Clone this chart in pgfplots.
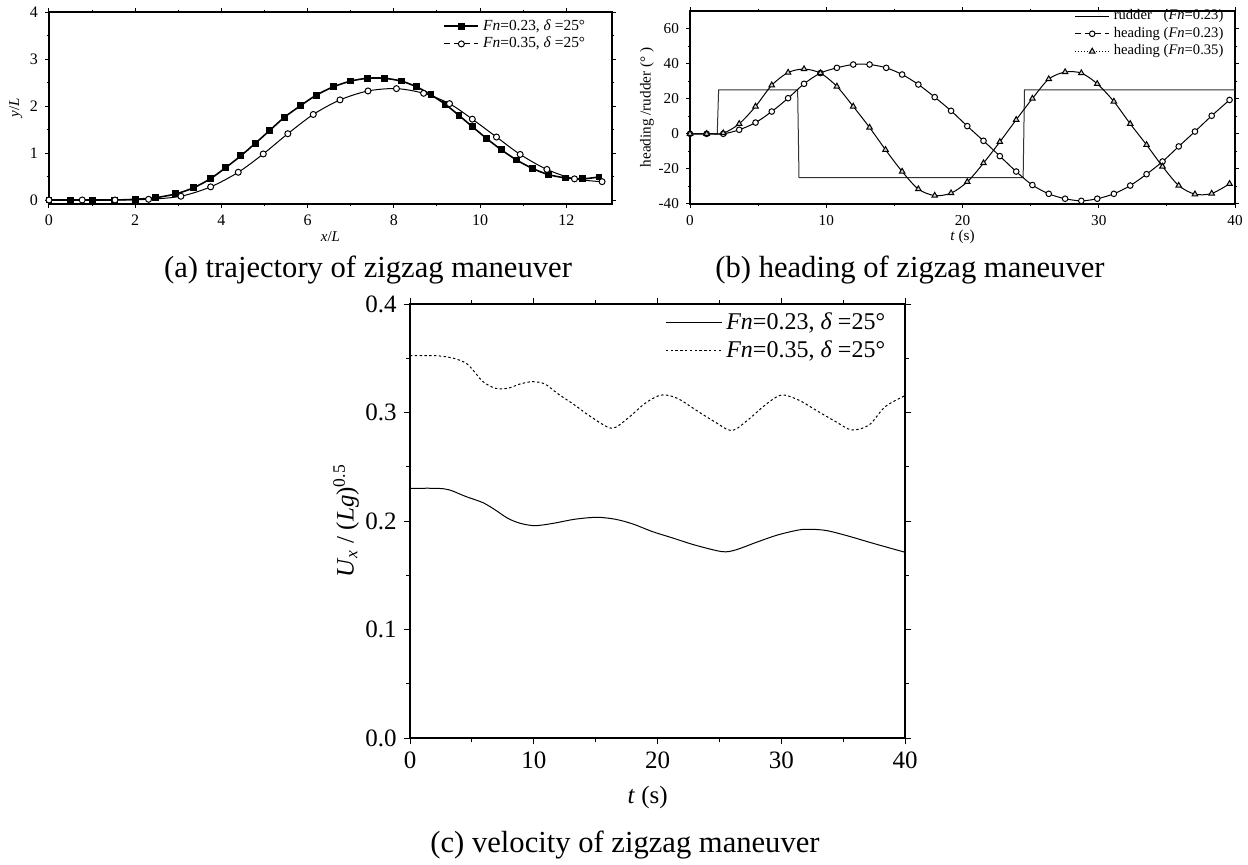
\documentclass[border=0pt]{standalone}
\usepackage{fontspec}
\setmainfont{Liberation Serif}
\usepackage{pgfplots}
\pgfplotsset{compat=1.18}
\begin{document}
\begin{tikzpicture}
\useasboundingbox (0,0) rectangle (624pt,432pt);
\pgfplotsset{
  every axis/.append style={
    scale only axis,
    anchor=south west,
    /pgf/number format/assume math mode=true,
    tick align=outside,
    xtick pos=both, ytick pos=both,
    minor tick num=1,
    axis line style={line width=0.6pt},
    every tick/.style={black, line width=0.5pt},
    legend cell align=left,
  }
}
% ---------------- (a) trajectory ----------------
\begin{axis}[
  at={(24.5pt,330pt)}, width=281.5pt, height=96pt,
  xmin=0, xmax=13.06, ymin=-0.085, ymax=4,
  xtick={0,2,4,6,8,10,12}, ytick={0,1,2,3,4},
  major tick length=2pt, minor tick length=1.2pt,
  tick label style={font=\fontsize{8}{9}\selectfont},
  xlabel={\textit{x}/\textit{L}}, ylabel={\textit{y}/\textit{L}},
  label style={font=\fontsize{7.5}{9}\selectfont},
  xlabel style={at={(axis description cs:0.5,-0.172)}, anchor=center},
  ylabel style={at={(axis description cs:-0.059,0.5)}, anchor=center},
  legend style={at={(axis description cs:0.70,0.985)}, anchor=north west, draw=none, fill=none,
    font=\fontsize{7.7}{8}\selectfont, inner sep=0pt, row sep=-2pt},
]
\addplot[black, line width=0.8pt, smooth, mark=square*, mark size=1.3pt, mark options={solid}, forget plot] coordinates {
(0,0) (0.5,0) (1.01,0) (1.52,0) (2.0,0.015) (2.47,0.05) (2.94,0.13) (3.35,0.26) (3.74,0.45)
(4.10,0.69) (4.45,0.94) (4.79,1.21) (5.12,1.48) (5.46,1.76) (5.84,2.01) (6.20,2.23) (6.60,2.41)
(7.00,2.53) (7.39,2.59) (7.78,2.59) (8.17,2.53) (8.52,2.41) (8.86,2.24) (9.20,2.03) (9.51,1.80)
(9.82,1.56) (10.15,1.31) (10.49,1.07) (10.85,0.85) (11.22,0.67) (11.59,0.54) (11.99,0.47)
(12.38,0.45) (12.76,0.49)
};
\addplot[black, line width=0.5pt, smooth, mark=*, mark size=1.5pt, mark options={solid, fill=white}, forget plot] coordinates {
(0,0) (0.77,0) (1.53,0) (2.31,0.015) (3.06,0.08) (3.75,0.28) (4.39,0.59) (4.97,0.98) (5.54,1.41)
(6.13,1.82) (6.75,2.13) (7.40,2.32) (8.06,2.37) (8.69,2.27) (9.29,2.05) (9.82,1.72) (10.38,1.34)
(10.93,0.97) (11.55,0.65) (12.19,0.45) (12.83,0.39)
};
\addlegendimage{black, line width=0.8pt, mark=square*, mark size=1.3pt, mark options={solid}}
\addlegendentry{\textit{Fn}=0.23, \textit{δ} =25°}
\addlegendimage{black, line width=0.5pt, densely dashed, mark=*, mark size=1.5pt, mark options={solid, fill=white}}
\addlegendentry{\textit{Fn}=0.35, \textit{δ} =25°}
\end{axis}
% ---------------- (b) heading ----------------
\begin{axis}[
  at={(345pt,330pt)}, width=272.5pt, height=96.5pt,
  xmin=0, xmax=40, ymin=-40, ymax=70,
  xtick={0,10,20,30,40}, ytick={-40,-20,0,20,40,60},
  major tick length=2pt, minor tick length=1.2pt,
  tick label style={font=\fontsize{7.6}{9}\selectfont},
  xlabel={\textit{t} (s)}, ylabel={heading /rudder (° )},
  label style={font=\fontsize{7.6}{9}\selectfont},
  xlabel style={at={(axis description cs:0.5,-0.17)}, anchor=center},
  ylabel style={at={(axis description cs:-0.079,0.5)}, anchor=center},
  legend style={at={(axis description cs:0.705,1.03)}, anchor=north west, draw=none, fill=none,
    font=\fontsize{7.3}{8}\selectfont, inner sep=0pt, row sep=-1.75pt},
]
\addplot[black!80, line width=0.5pt, forget plot] coordinates {
(0,0) (2.0,0) (2.1,25) (7.9,25) (8.0,-25) (24.45,-25) (24.55,25) (40,25)
};
\addplot[black, line width=0.5pt, smooth, mark=*, mark size=1.4pt, mark options={solid, fill=white}, forget plot] coordinates {
(0,0) (1.22,0) (2.44,0) (3.61,2.3) (4.81,6.4) (6.0,12.7) (7.2,20.3) (8.37,28.5) (9.57,34.6)
(10.78,37.6) (11.98,39.5) (13.18,39.5) (14.40,37.6) (15.57,33.8) (16.76,28.1) (17.96,20.9)
(19.16,13.1) (20.35,4.4) (21.54,-4.0) (22.74,-12.7) (23.94,-21.5) (25.13,-29.2) (26.33,-34.2)
(27.53,-37.0) (28.72,-38.2) (29.89,-37.0) (31.11,-34.2) (32.31,-29.5) (33.51,-23.0) (34.68,-15.8)
(35.87,-7.2) (37.06,1.3) (38.29,10.3) (39.6,19.3)
};
\addplot[black, line width=0.5pt, smooth, mark=triangle*, mark size=1.6pt, mark options={solid, fill=gray!35}, forget plot] coordinates {
(0,0) (1.22,0) (2.44,0.4) (3.61,5.7) (4.81,15.6) (6.0,27.7) (7.2,34.9) (8.37,36.9) (9.57,34.6)
(10.78,27.0) (11.98,15.6) (13.18,3.6) (14.35,-9.1) (15.57,-21.5) (16.76,-31.5) (17.96,-35.2)
(19.16,-33.8) (20.35,-27.4) (21.54,-16.7) (22.74,-4.6) (23.94,8.0) (25.13,20.1) (26.33,31.2)
(27.53,35.2) (28.72,34.6) (29.89,28.5) (31.11,18.4) (32.31,5.7) (33.51,-6.3) (34.68,-18.6)
(35.87,-29.5) (37.06,-34.4) (38.29,-34.0) (39.6,-28.5)
};
\addlegendimage{black, line width=0.5pt}
\addlegendentry{\rlap{rudder}\phantom{heading} (\textit{Fn}=0.23)}
\addlegendimage{black, line width=0.5pt, densely dashed, mark=*, mark size=1.4pt, mark options={solid, fill=white}}
\addlegendentry{heading (\textit{Fn}=0.23)}
\addlegendimage{black, line width=0.5pt, densely dotted, mark=triangle*, mark size=1.6pt, mark options={solid, fill=gray!35}}
\addlegendentry{heading (\textit{Fn}=0.35)}
\end{axis}
% ---------------- (c) velocity ----------------
\begin{axis}[
  at={(205pt,63pt)}, width=247.5pt, height=217pt,
  xmin=0, xmax=40, ymin=0, ymax=0.4,
  xtick={0,10,20,30,40}, ytick={0,0.1,0.2,0.3,0.4},
  axis line style={line width=0.8pt},
  major tick length=3.2pt, minor tick length=1.8pt,
  tick label style={font=\fontsize{12.5}{14}\selectfont},
  y tick label style={/pgf/number format/.cd, fixed, fixed zerofill, precision=1},
  xlabel={\textit{t} (s)}, ylabel={\textit{U}\textsubscript{\textit{x}} / (\textit{Lg})\textsuperscript{0.5}},
  label style={font=\fontsize{12.5}{14}\selectfont},
  xlabel style={at={(axis description cs:0.48,-0.136)}, anchor=center},
  ylabel style={at={(axis description cs:-0.129,0.5)}, anchor=center},
  legend image code/.code={\draw[#1] (0pt,0pt) -- (28pt,0pt);},
  legend style={at={(axis description cs:0.515,0.99)}, anchor=north west, draw=none, fill=none,
    font=\fontsize{12}{13}\selectfont, inner sep=0pt, row sep=0pt},
]
\addplot[black, line width=0.5pt, smooth] coordinates {
(0,0.2301) (2.2,0.2301) (3.2,0.2286) (4.55,0.2224) (5.9,0.2169) (6.9,0.2101) (7.9,0.2025)
(8.9,0.1979) (10.1,0.1957) (11.6,0.1979) (13.3,0.2016) (15.1,0.2034) (16.6,0.2016) (18.0,0.1973)
(19.6,0.1902) (21.3,0.1841) (23.0,0.1779) (25.2,0.1718) (26.3,0.1733) (28.0,0.1804) (29.7,0.1871)
(31.4,0.1917) (32.4,0.1924) (33.7,0.1911) (35.4,0.1862) (37.4,0.1795) (40,0.1712)
};
\addlegendentry{\textit{Fn}=0.23, \textit{δ} =25°}
\addplot[black, line width=0.5pt, smooth, dash pattern=on 1.2pt off 1.2pt] coordinates {
(0,0.3523) (2.2,0.3523) (3.55,0.3499) (4.55,0.3453) (5.2,0.3376) (5.9,0.3284) (6.9,0.3223)
(7.9,0.3223) (8.9,0.3263) (9.9,0.3284) (10.9,0.3263) (11.9,0.3177) (13.3,0.3069) (14.6,0.2962)
(16.3,0.2855) (17.6,0.2947) (19.0,0.3085) (20.3,0.3161) (21.6,0.3131) (23.3,0.3008) (24.6,0.2916)
(26.0,0.2833) (27.3,0.2931) (28.7,0.3069) (30.0,0.3161) (31.4,0.3115) (33.0,0.3008) (34.4,0.2916)
(35.7,0.2839) (37.1,0.2885) (38.4,0.3054) (40,0.3155)
};
\addlegendentry{\textit{Fn}=0.35, \textit{δ} =25°}
\end{axis}
% captions
\node[font=\fontsize{15.3}{17}\selectfont, anchor=base] at (184pt,293.5pt) {(a) trajectory of zigzag maneuver};
\node[font=\fontsize{15.3}{17}\selectfont, anchor=base] at (455pt,293.5pt) {(b) heading of zigzag maneuver};
\node[font=\fontsize{15.3}{17}\selectfont, anchor=base] at (312.5pt,6pt) {(c) velocity of zigzag maneuver};
\end{tikzpicture}
\end{document}
